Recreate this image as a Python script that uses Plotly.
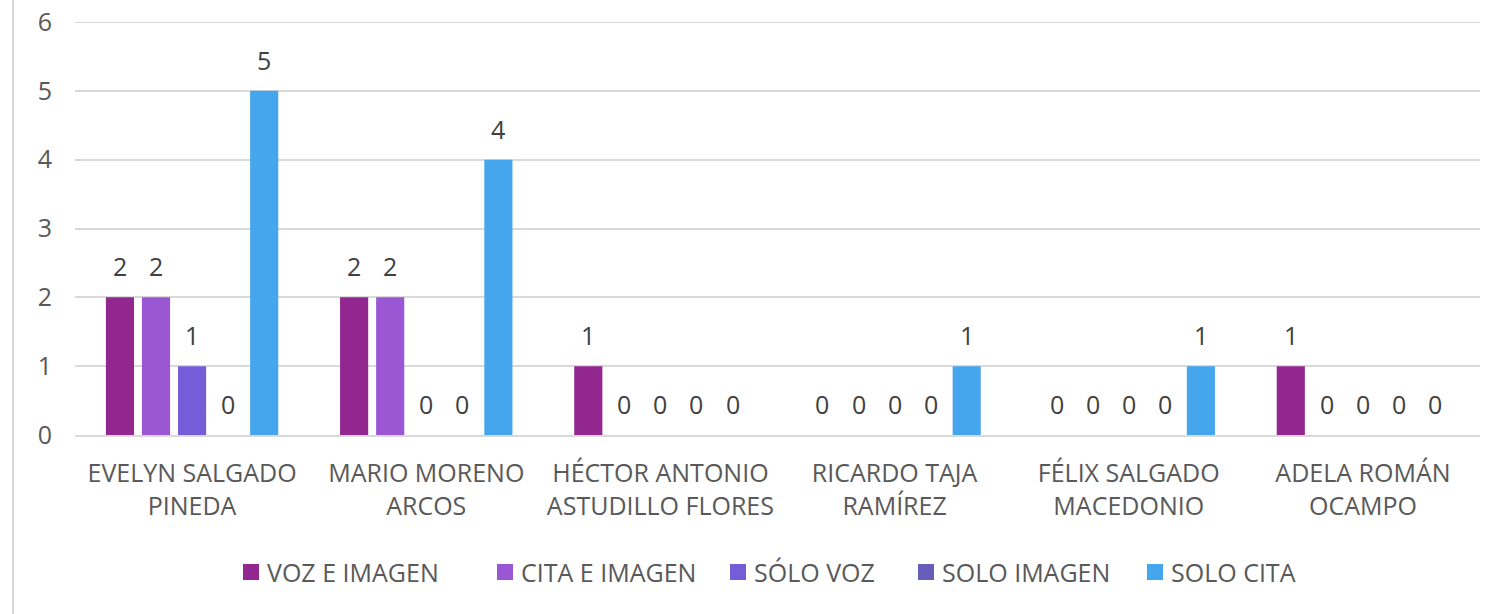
import plotly.graph_objects as go

categories = [
    "EVELYN SALGADO<br>PINEDA",
    "MARIO MORENO<br>ARCOS",
    "HÉCTOR ANTONIO<br>ASTUDILLO FLORES",
    "RICARDO TAJA<br>RAMÍREZ",
    "FÉLIX SALGADO<br>MACEDONIO",
    "ADELA ROMÁN<br>OCAMPO",
]
series_names = ["VOZ E IMAGEN", "CITA E IMAGEN", "SÓLO VOZ", "SOLO IMAGEN", "SOLO CITA"]
voz_e_imagen = [2, 2, 1, 0, 0, 1]
cita_e_imagen = [2, 2, 0, 0, 0, 0]
solo_voz = [1, 0, 0, 0, 0, 0]
solo_imagen = [0, 0, 0, 0, 0, 0]
solo_cita = [5, 4, 0, 1, 1, 0]
series_values = [voz_e_imagen, cita_e_imagen, solo_voz, solo_imagen, solo_cita]
colors = ["#92278F", "#9B57D3", "#755DD9", "#665EB8", "#45A5ED"]
y_ticks = [0, 1, 2, 3, 4, 5, 6]

FONT = "Open Sans"
W, H = 1496, 614
ML, MR, MT, MB = 75, 16, 22, 179
PW, PH = W - ML - MR, H - MT - MB
BARGAP = 0.23
N = len(series_names)
SLOT = (1 - BARGAP) / N


def px_x(px):
    return (px - ML) / PW


def px_y(py):
    return (H - MB - py) / PH


fig = go.Figure()
for name, vals, col in zip(series_names, series_values, colors):
    fig.add_trace(go.Bar(
        name=name,
        x=categories,
        y=vals,
        marker=dict(color=col, line=dict(width=0)),
        showlegend=False,
    ))

# value labels above each bar (zeros sit just above the baseline)
annotations = []
for j, vals in enumerate(series_values):
    for i, v in enumerate(vals):
        annotations.append(dict(
            x=i - (1 - BARGAP) / 2 + SLOT * (j + 0.5), y=v,
            xref="x", yref="y",
            text=str(v), showarrow=False,
            yanchor="middle", yshift=31,
            font=dict(family=FONT, size=25, color="#404040"),
        ))

# legend row: coloured squares followed by series names
legend_left = [243, 497, 730, 918, 1147]
legend_cy = 572
shapes = []
for name, col, lx in zip(series_names, colors, legend_left):
    shapes.append(dict(
        type="rect", xref="paper", yref="paper",
        x0=px_x(lx), x1=px_x(lx + 16),
        y0=px_y(legend_cy + 8), y1=px_y(legend_cy - 8),
        fillcolor=col, line=dict(width=0),
    ))
    annotations.append(dict(
        x=px_x(lx + 22), y=px_y(legend_cy), xref="paper", yref="paper",
        xanchor="left", yanchor="middle", text=name, showarrow=False,
        font=dict(family=FONT, size=25, color="#595959"),
    ))

# top gridline at the upper end of the value axis
shapes.append(dict(
    type="line", xref="paper", yref="y",
    x0=0, x1=1, y0=y_ticks[-1], y1=y_ticks[-1],
    line=dict(color="#D9D9D9", width=2), layer="below",
))

# thin page border line at the left edge
shapes.append(dict(
    type="line", xref="paper", yref="paper",
    x0=px_x(13), x1=px_x(13), y0=px_y(H), y1=px_y(0),
    line=dict(color="#D9D9D9", width=2),
))

fig.update_layout(
    width=W,
    height=H,
    margin=dict(l=ML, r=MR, t=MT, b=MB, autoexpand=False),
    paper_bgcolor="white",
    plot_bgcolor="white",
    barmode="group",
    bargap=BARGAP,
    bargroupgap=0.22,
    font=dict(family=FONT, color="#595959", size=25),
    showlegend=False,
    annotations=annotations,
    shapes=shapes,
)
fig.update_yaxes(
    range=[0, 6],
    tickvals=y_ticks,
    showgrid=True,
    gridcolor="#D9D9D9",
    gridwidth=2,
    zeroline=False,
    showline=False,
    ticks="",
    automargin=False,
    ticklabelstandoff=22,
    tickfont=dict(family=FONT, size=25, color="#595959"),
)
fig.update_xaxes(
    showline=True,
    linecolor="#D9D9D9",
    linewidth=2,
    ticks="",
    automargin=False,
    ticklabelstandoff=15,
    tickfont=dict(family=FONT, size=25, color="#595959"),
)

fig.write_html("out.html")
